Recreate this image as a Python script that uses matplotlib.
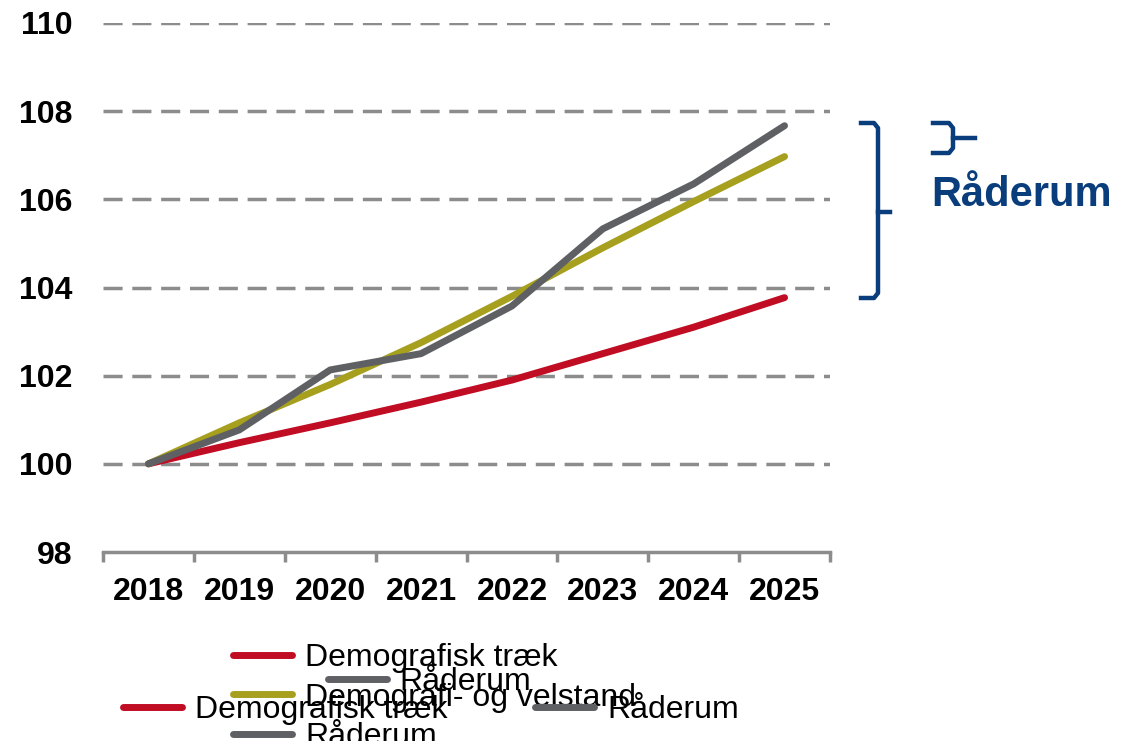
import matplotlib.pyplot as plt
from matplotlib.lines import Line2D

plt.rcParams['font.family'] = ['Liberation Sans', 'DejaVu Sans']

years = ["2018", "2019", "2020", "2021", "2022", "2023", "2024", "2025"]
demografi = [100.0, 100.48, 100.93, 101.40, 101.90, 102.50, 103.10, 103.77]
velstand = [100.0, 100.93, 101.80, 102.75, 103.80, 104.90, 105.95, 106.97]
raaderum = [100.0, 100.77, 102.13, 102.50, 103.58, 105.33, 106.35, 107.67]
yticks = [98, 100, 102, 104, 106, 108, 110]

red = "#C00D24"
olive = "#A6A01E"
grey = "#5E6064"
blue = "#0A3D7C"

W, H = 1140, 741
fig = plt.figure(figsize=(W / 100, H / 100), dpi=100)
ax = fig.add_axes([103 / W, 1 - 552 / H, (830 - 103) / W, (552 - 23) / H])

x = list(range(len(years)))
l1, = ax.plot(x, demografi, color=red, lw=5, solid_capstyle='round', zorder=3)
l2, = ax.plot(x, velstand, color=olive, lw=5, solid_capstyle='round', zorder=3)
l3, = ax.plot(x, raaderum, color=grey, lw=5, solid_capstyle='round', zorder=4)

ax.set_xlim(-0.5, len(years) - 0.5)
ax.set_ylim(98, 110)
ax.set_yticks(yticks)
ax.set_yticklabels([str(v) for v in yticks], fontsize=23)
ax.set_xticks(x)
ax.set_xticklabels(years, fontsize=23, fontweight='bold')
ax.set_xticks([i - 0.5 for i in range(len(years) + 1)], minor=True)
ax.tick_params(axis='x', which='major', length=0, pad=18)
ax.tick_params(axis='x', which='minor', length=7, width=2.5, color='#8C8C8C', direction='out')
ax.tick_params(axis='y', length=0, pad=22)
for t in ax.get_yticklabels():
    t.set_fontweight('bold')

for s in ['top', 'right', 'left']:
    ax.spines[s].set_visible(False)
ax.spines['bottom'].set_color('#8C8C8C')
ax.spines['bottom'].set_linewidth(2.5)

for v in yticks[1:]:
    ax.axhline(v, color='#8C8C8C', lw=2.5, ls=(0, (5.5, 2.8)), zorder=1)


def px(xp, yp):
    return xp / W, 1 - yp / H


# brackets
def bracket(xv, y0, y1, xl, xr, ym):
    xs = [xl, xv - 4, xv, xv, xv, xv, xv - 4, xl]
    ys = [y0, y0, y0 + 5, ym, ym, y1 - 5, y1, y1]
    pts = [px(a, b) for a, b in zip(xs, ys)]
    fig.add_artist(Line2D([p[0] for p in pts], [p[1] for p in pts], color=blue, lw=3.2,
                          transform=fig.transFigure, solid_joinstyle='round'))
    a, b = px(xv, ym)
    c, _ = px(xr, ym)
    fig.add_artist(Line2D([a, c], [b, b], color=blue, lw=3.2, transform=fig.transFigure))


bracket(878, 123, 298, 861, 890, 212)
bracket(953, 123, 153, 933, 975, 138)
fig.text(*px(931, 195), "Råderum", color=blue, fontsize=30, fontweight='bold', va='center', ha='left')

# legends (overlapping as in the original)
kw = dict(frameon=False, fontsize=23, handlelength=1.85, handletextpad=0.4, borderpad=0, borderaxespad=0)
fig.legend([l1, l2, l3], ["Demografisk træk", "Demografi- og velstand", "Råderum"],
           loc='upper left', bbox_to_anchor=px(233, 643), labelspacing=0.3, **kw)
fig.legend([l3], ["Råderum"], loc='upper left', bbox_to_anchor=px(328, 667), **kw)
fig.legend([l1, l3], ["Demografisk træk", "Råderum"], ncol=2, columnspacing=2.75,
           loc='upper left', bbox_to_anchor=px(123, 695), **kw)

fig.savefig("out.png", dpi=100)
